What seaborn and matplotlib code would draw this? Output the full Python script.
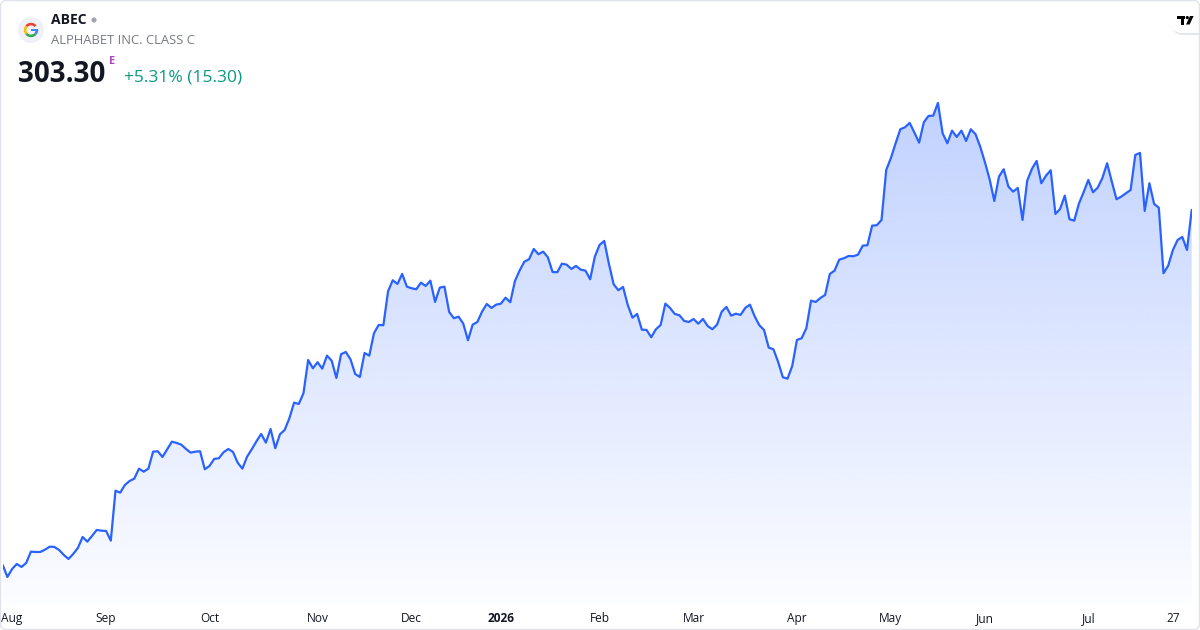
import numpy as np
import pandas as pd
import seaborn as sns
import matplotlib.pyplot as plt
from matplotlib.patches import Circle, Wedge, Rectangle, Polygon, FancyBboxPatch

# daily closes (one value per trading day)
prices = [
    167.51, 162.92, 165.98, 167.89, 166.75, 168.28, 172.60, 172.48, 172.48, 173.36,
    174.51, 174.40, 173.25, 171.34, 169.81, 171.72, 174.01, 178.22, 176.42, 178.60,
    180.90, 180.63, 180.52, 176.81, 195.93, 195.17, 198.11, 199.64, 200.52, 204.35,
    203.20, 204.35, 210.85, 211.00, 208.82, 211.77, 214.67, 214.18, 213.53, 211.88,
    210.47, 210.85, 211.00, 204.12, 205.38, 208.06, 208.33, 210.62, 211.88, 210.73,
    206.64, 204.35, 208.94, 211.77, 214.83, 217.62, 214.29, 219.53, 212.15, 217.51,
    219.15, 223.63, 229.59, 229.09, 233.19, 245.92, 242.75, 245.05, 242.60, 247.57,
    245.66, 239.04, 248.11, 248.98, 246.19, 240.57, 239.42, 248.60, 247.57, 256.14,
    259.31, 259.20, 272.20, 276.41, 274.99, 278.82, 273.96, 273.35, 272.97, 275.49,
    274.23, 276.26, 268.11, 273.58, 273.96, 264.28, 261.88, 262.49, 259.81, 253.46,
    259.43, 260.46, 264.40, 267.34, 265.81, 267.08, 267.46, 269.75, 268.00, 276.14,
    280.16, 283.52, 284.44, 288.38, 286.36, 287.35, 285.21, 279.58, 279.47, 282.76,
    282.38, 280.73, 281.88, 280.46, 280.08, 276.79, 285.44, 289.91, 291.44, 282.64,
    274.88, 272.59, 273.85, 266.96, 262.10, 263.52, 257.51, 257.40, 254.61, 257.67,
    259.31, 267.46, 265.81, 263.52, 263.02, 260.84, 260.46, 261.61, 259.81, 261.61,
    258.93, 257.67, 259.43, 264.40, 266.20, 262.87, 263.63, 263.14, 265.81, 267.08,
    262.64, 259.20, 257.40, 250.63, 250.02, 245.16, 239.31, 238.77, 243.63, 253.57,
    254.23, 258.05, 268.61, 268.11, 269.64, 270.79, 278.82, 280.08, 284.29, 284.83,
    285.70, 285.59, 286.20, 289.64, 289.80, 297.29, 297.45, 299.47, 318.60, 323.19,
    328.81, 334.17, 334.93, 336.58, 332.87, 329.04, 336.85, 339.26, 339.37, 344.23,
    332.64, 328.81, 333.63, 331.22, 333.63, 329.69, 334.17, 332.26, 327.51, 321.55,
    315.04, 306.74, 316.11, 318.87, 312.21, 310.30, 311.72, 299.47, 314.51, 318.98,
    322.04, 313.51, 316.42, 318.49, 301.77, 303.68, 308.77, 299.74, 299.21, 305.71,
    310.07, 314.78, 310.07, 311.83, 315.54, 321.16, 314.12, 307.39, 308.39, 309.69,
    310.95, 324.34, 325.10, 302.92, 313.51, 305.60, 304.18, 279.09, 281.99, 288.00,
    291.82, 292.97, 288.00, 303.30,
]
tick_labels = ["Aug", "Sep", "Oct", "Nov", "Dec", "2026", "Feb", "Mar", "Apr",
               "May", "Jun", "Jul", "27"]
tick_bars = [2, 22, 44, 67, 87, 106, 127, 147, 169, 189, 209, 231, 249]

symbol = "ABEC"
company = "ALPHABET INC. CLASS C"
last_price = "303.30"
change_text = "+5.31% (15.30)"

LINE = "#2962ff"
TEXT = "#131722"

df = pd.DataFrame({"bar": np.arange(len(prices)), "close": prices})

sns.set_style("white")
plt.rcParams["font.family"] = ["Open Sans", "DejaVu Sans"]

fig = plt.figure(figsize=(12, 6.3), dpi=100)
ax = fig.add_axes([2.7 / 1200, 25 / 630, 1189 / 1200, 605 / 630])
ybot, ytop = 152.2, 383.6

# gradient area under the line
poly = ax.fill_between(df.bar, df.close, ybot, facecolor="none", edgecolor="none")
ymax = df.close.max()
n = 256
grad = np.zeros((n, 1, 4))
grad[..., 0] = 41 / 255
grad[..., 1] = 98 / 255
grad[..., 2] = 1.0
grad[:, 0, 3] = np.linspace(0.015, 0.29, n)
img = ax.imshow(grad, extent=[0, len(prices) - 1, ybot, ymax], origin="lower",
                aspect="auto", zorder=1, interpolation="bilinear")
img.set_clip_path(poly.get_paths()[0], transform=ax.transData)

sns.lineplot(data=df, x="bar", y="close", ax=ax, color=LINE, linewidth=1.6, zorder=3)

ax.set_xlim(0, len(prices) - 1)
ax.set_ylim(ybot, ytop)
ax.set_xticks(tick_bars)
ax.set_xticklabels(tick_labels, fontsize=8.6, color=TEXT)
ax.get_xticklabels()[5].set_fontweight("bold")
ax.tick_params(axis="x", length=0, pad=5)
ax.set_yticks([])
ax.set_xlabel(None)
ax.set_ylabel(None)
for s in ax.spines.values():
    s.set_visible(False)
ax.patch.set_alpha(0)

# header overlay in pixel coordinates
hd = fig.add_axes([0, 0, 1, 1], zorder=5)
hd.set_xlim(0, 1200)
hd.set_ylim(630, 0)
hd.axis("off")
hd.patch.set_alpha(0)

# logo
hd.add_patch(Circle((31, 30), 13, color="#eff1f6", lw=0))
cx, cy, r, w = 31, 30, 7.2, 2.6
for a0, a1, c in [(40, 140, "#ea4335"), (140, 220, "#fbbc05"),
                  (220, 318, "#34a853"), (318, 360, "#4285f4")]:
    hd.add_patch(Wedge((cx, cy), r, -a1, -a0, width=w, color=c, lw=0))
hd.add_patch(Rectangle((cx, cy - 1.3), r, 2.6, color="#4285f4", lw=0))

hd.text(51, 20.5, symbol, fontsize=10, fontweight="bold", color=TEXT, va="center")
hd.add_patch(Circle((94, 20), 2.6, color="#a3a6af", lw=0))
hd.text(51, 40.5, company, fontsize=9.4, color="#787b86", va="center")
hd.text(18, 82, last_price, fontsize=20, fontweight="bold", color=TEXT, va="baseline")
hd.text(109.5, 62, "E", fontsize=7.8, fontweight="bold", color="#ab47bc", va="center")
hd.text(124, 81, change_text, fontsize=12.5, color="#089981", va="baseline")

# tradingview badge
hd.add_patch(FancyBboxPatch((1172, 13), 40, 22, boxstyle="round,pad=0,rounding_size=11",
                            facecolor="#e3e6ec", edgecolor="none"))
hd.add_patch(FancyBboxPatch((1171, 11), 40, 22, boxstyle="round,pad=0,rounding_size=11",
                            facecolor="white", edgecolor="none"))
hd.add_patch(Rectangle((1177, 16), 8, 3, color="black", lw=0))
hd.add_patch(Rectangle((1181, 16), 3, 8.5, color="black", lw=0))
hd.add_patch(Circle((1187.3, 17.6), 1.6, color="black", lw=0))
hd.add_patch(Polygon([(1190, 16), (1193.6, 16), (1189.6, 24.5), (1186, 24.5)],
                     closed=True, color="black", lw=0))

# card border
hd.add_patch(FancyBboxPatch((0.5, 0.5), 1199, 629, boxstyle="round,pad=0,rounding_size=6",
                            facecolor="none", edgecolor="#e0e3eb", lw=1))

fig.savefig("out.png", dpi=100, facecolor="white")
